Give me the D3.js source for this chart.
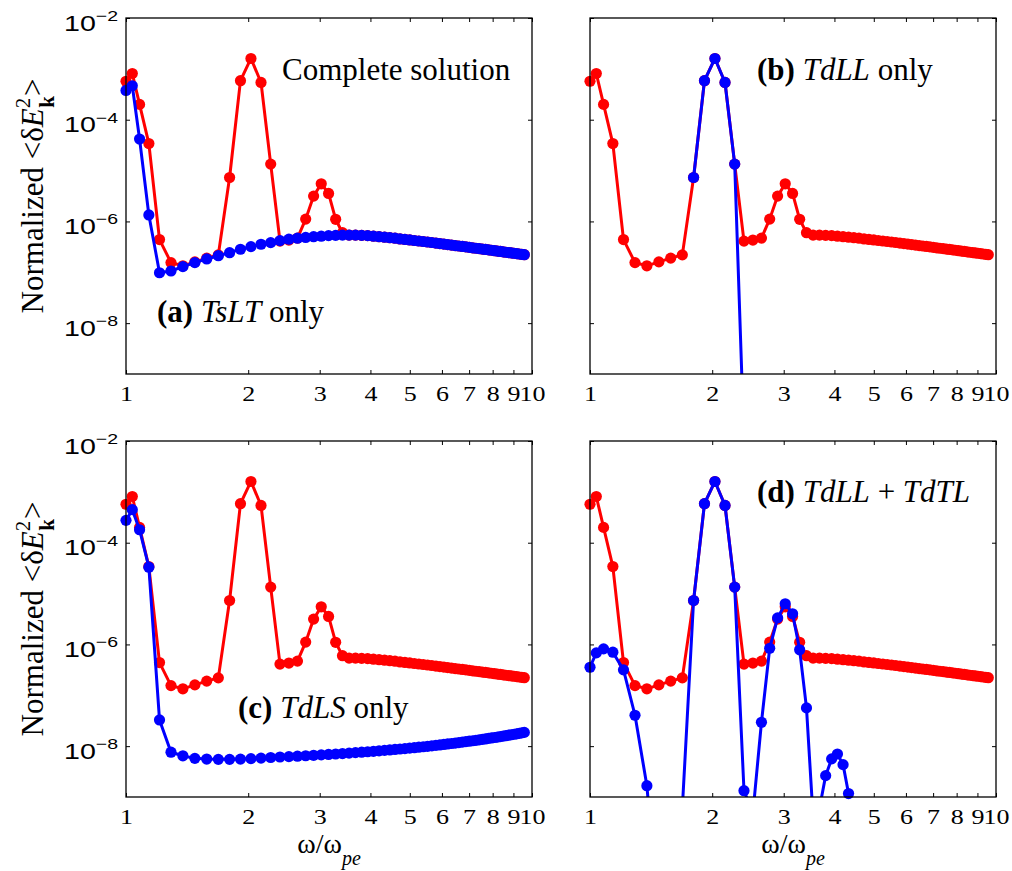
<!DOCTYPE html>
<html>
<head>
<meta charset="utf-8">
<script src="https://cdn.jsdelivr.net/npm/d3@7"></script>
<style>
  body { margin: 0; background: #fff; }
  svg { display: block; }
  .serif { font-family: "Liberation Serif", "Times New Roman", Times, serif; }
  .sans { font-family: "Liberation Sans", Arial, Helvetica, sans-serif; }
</style>
</head>
<body>
<svg id="fig" width="1012" height="871"></svg>
<script>
// Frequency grid, omega / omega_pe
const omega = [
  1.0000, 1.0363, 1.0800, 1.1384, 1.2093, 1.2907, 1.3807, 1.4778, 1.5806, 1.6881,
  1.7995, 1.9140, 2.0312, 2.1506, 2.2719, 2.3948, 2.5190, 2.6444, 2.7707, 2.8980,
  3.0260, 3.1547, 3.2840, 3.4137, 3.5440, 3.6747, 3.8057, 3.9371, 4.0688, 4.2008,
  4.3330, 4.4654, 4.5981, 4.7309, 4.8639, 4.9971, 5.1304, 5.2639, 5.3974, 5.5311,
  5.6650, 5.7989, 5.9329, 6.0670, 6.2012, 6.3354, 6.4698, 6.6042, 6.7386, 6.8731,
  7.0077, 7.1423, 7.2770, 7.4118, 7.5465, 7.6814, 7.8162, 7.9511, 8.0861, 8.2210,
  8.3560, 8.4911, 8.6261, 8.7613, 8.8964, 9.0315, 9.1667, 9.3019, 9.4371, 9.5724
];

// Complete solution (red, same in every panel)
const complete = [
  5.7e-4, 8.1e-4, 2.0e-4, 3.4e-5, 4.4e-7, 1.55e-7, 1.34e-7, 1.6e-7, 1.9e-7, 2.2e-7,
  7.3e-6, 5.85e-4, 1.6e-3, 5.4e-4, 1.34e-5, 4.1e-7, 4.3e-7, 4.7e-7, 1.11e-6, 3.15e-6,
  5.5e-6, 3.55e-6, 1.1e-6, 6.0e-7, 5.37e-7, 5.37e-7, 5.31e-7, 5.25e-7, 5.13e-7, 5.01e-7,
  4.90e-7, 4.79e-7, 4.68e-7, 4.52e-7, 4.42e-7, 4.32e-7, 4.22e-7, 4.12e-7, 4.03e-7, 3.94e-7,
  3.85e-7, 3.76e-7, 3.67e-7, 3.59e-7, 3.51e-7, 3.43e-7, 3.35e-7, 3.29e-7, 3.22e-7, 3.16e-7,
  3.09e-7, 3.03e-7, 2.97e-7, 2.92e-7, 2.86e-7, 2.81e-7, 2.76e-7, 2.71e-7, 2.66e-7, 2.61e-7,
  2.57e-7, 2.52e-7, 2.48e-7, 2.44e-7, 2.40e-7, 2.37e-7, 2.33e-7, 2.29e-7, 2.25e-7, 2.22e-7
];

// (a) TsLT only
const tslt = [
  3.76e-4, 4.65e-4, 4.17e-5, 1.34e-6, 9.8e-8, 1.06e-7, 1.29e-7, 1.55e-7, 1.83e-7, 2.12e-7,
  2.43e-7, 2.84e-7, 3.19e-7, 3.56e-7, 3.83e-7, 4.19e-7, 4.47e-7, 4.68e-7, 4.84e-7, 5.01e-7,
  5.13e-7, 5.25e-7, 5.31e-7, 5.37e-7, 5.37e-7, 5.37e-7, 5.31e-7, 5.25e-7, 5.13e-7, 5.01e-7,
  4.90e-7, 4.79e-7, 4.68e-7, 4.52e-7, 4.42e-7, 4.32e-7, 4.22e-7, 4.12e-7, 4.03e-7, 3.94e-7,
  3.85e-7, 3.76e-7, 3.67e-7, 3.59e-7, 3.51e-7, 3.43e-7, 3.35e-7, 3.29e-7, 3.22e-7, 3.16e-7,
  3.09e-7, 3.03e-7, 2.97e-7, 2.92e-7, 2.86e-7, 2.81e-7, 2.76e-7, 2.71e-7, 2.66e-7, 2.61e-7,
  2.57e-7, 2.52e-7, 2.48e-7, 2.44e-7, 2.40e-7, 2.37e-7, 2.33e-7, 2.29e-7, 2.25e-7, 2.22e-7
];

// (b) TdLL only
const tdll = [
  null, null, null, null, null, null, null, null, null, null,
  7.3e-6, 5.85e-4, 1.6e-3, 5.4e-4, 1.34e-5, 5e-11, null, null, null, null,
  null, null, null, null, null, null, null, null, null, null,
  null, null, null, null, null, null, null, null, null, null,
  null, null, null, null, null, null, null, null, null, null,
  null, null, null, null, null, null, null, null, null, null,
  null, null, null, null, null, null, null, null, null, null
];

// (c) TdLS only
const tdls = [
  2.75e-4, 4.47e-4, 1.8e-4, 3.3e-5, 3.27e-8, 7.6e-9, 6.46e-9, 5.75e-9, 5.58e-9, 5.5e-9,
  5.5e-9, 5.56e-9, 5.69e-9, 5.82e-9, 5.98e-9, 6.11e-9, 6.23e-9, 6.34e-9, 6.47e-9, 6.61e-9,
  6.73e-9, 6.87e-9, 7.01e-9, 7.15e-9, 7.30e-9, 7.45e-9, 7.60e-9, 7.76e-9, 7.92e-9, 8.09e-9,
  8.26e-9, 8.42e-9, 8.60e-9, 8.78e-9, 8.95e-9, 9.14e-9, 9.33e-9, 9.53e-9, 9.73e-9, 9.93e-9,
  1.014e-8, 1.035e-8, 1.057e-8, 1.081e-8, 1.104e-8, 1.127e-8, 1.151e-8, 1.175e-8, 1.199e-8, 1.225e-8,
  1.250e-8, 1.276e-8, 1.303e-8, 1.330e-8, 1.358e-8, 1.387e-8, 1.419e-8, 1.449e-8, 1.479e-8, 1.510e-8,
  1.542e-8, 1.574e-8, 1.607e-8, 1.641e-8, 1.675e-8, 1.714e-8, 1.750e-8, 1.786e-8, 1.824e-8, 1.862e-8
];

// (d) TdLL + TdTL
const tdllTdtl = [
  3.56e-7, 6.82e-7, 8.18e-7, 7.03e-7, 3.16e-7, 4.05e-8, 1.67e-9, 3e-12, 1e-12, 6e-10,
  7.3e-6, 5.85e-4, 1.6e-3, 5.4e-4, 1.34e-5, 1.33e-9, 4.8e-10, 2.95e-8, 8.41e-7, 3.33e-6,
  6.31e-6, 4.0e-6, 7.83e-7, 5.65e-8, 4e-10, 6e-10, 2.63e-9, 5.62e-9, 7.0e-9, 4.33e-9,
  1.17e-9, 2e-10, null, null, null, null, null, null, null, null,
  null, null, null, null, null, null, null, null, null, null,
  null, null, null, null, null, null, null, null, null, null,
  null, null, null, null, null, null, null, null, null, null
];

const xTicks = [1, 2, 3, 4, 5, 6, 7, 8, 9, 10];
const yTicks = [1e-2, 1e-4, 1e-6, 1e-8];
const yTickExponents = ["\u22122", "\u22124", "\u22126", "\u22128"];

// ---------------------------------------------------------------
const W = 406, H = 356;
const RED = "#ff0000", BLUE = "#0000ff";
const LABEL_SIZE = 31;

const svg = d3.select("#fig");

const panels = [
  { key: "a", left: 126, top: 18, blue: tslt, yText: true, xTitle: false,
    notes: [
      { x: 282, y: 80, parts: [["Complete solution", "normal", "normal"]] },
      { x: 157, y: 322, parts: [["(a)", "bold", "normal"], [" ", "normal", "normal"], ["TsLT", "normal", "italic"], [" only", "normal", "normal"]] }
    ] },
  { key: "b", left: 590, top: 18, blue: tdll, yText: false, xTitle: false,
    notes: [
      { x: 757, y: 80, parts: [["(b)", "bold", "normal"], [" ", "normal", "normal"], ["TdLL", "normal", "italic"], [" only", "normal", "normal"]] }
    ] },
  { key: "c", left: 126, top: 441, blue: tdls, yText: true, xTitle: true,
    notes: [
      { x: 238, y: 718, parts: [["(c)", "bold", "normal"], [" ", "normal", "normal"], ["TdLS", "normal", "italic"], [" only", "normal", "normal"]] }
    ] },
  { key: "d", left: 590, top: 441, blue: tdllTdtl, yText: false, xTitle: true,
    notes: [
      { x: 757, y: 502, parts: [["(d)", "bold", "normal"], [" ", "normal", "normal"], ["TdLL", "normal", "italic"], [" + ", "normal", "normal"], ["TdTL", "normal", "italic"]] }
    ] }
];

const x = d3.scaleLog().domain([1, 10]).range([0, W]);
const y = d3.scaleLog().domain([1e-9, 1e-2]).range([H, 0]);

const line = d3.line()
  .defined(d => d.v != null)
  .x(d => x(d.w))
  .y(d => y(d.v));

function toPoints(values) {
  return omega.map((w, i) => ({ w, v: values[i] }));
}

panels.forEach(p => {
  const g = svg.append("g").attr("transform", `translate(${p.left},${p.top})`);

  g.append("clipPath").attr("id", "clip-" + p.key)
    .append("rect").attr("x", 0).attr("y", 0).attr("width", W).attr("height", H);

  // series: complete solution underneath, partial contribution on top
  [[complete, RED], [p.blue, BLUE]].forEach(([vals, color]) => {
    const pts = toPoints(vals);
    g.append("path")
      .datum(pts)
      .attr("clip-path", `url(#clip-${p.key})`)
      .attr("fill", "none")
      .attr("stroke", color)
      .attr("stroke-width", 3)
      .attr("stroke-linejoin", "round")
      .attr("d", line);
    g.append("g").selectAll("circle")
      .data(pts.filter(d => d.v != null && d.v >= 1e-9 && d.v <= 1e-2))
      .join("circle")
      .attr("cx", d => x(d.w))
      .attr("cy", d => y(d.v))
      .attr("r", 5.6)
      .attr("fill", color);
  });

  // axes: inward ticks on all four sides
  const axB = g.append("g").attr("transform", `translate(0,${H})`)
    .call(d3.axisBottom(x).tickValues(xTicks).tickSize(-4).tickFormat(d3.format("d")));
  g.append("g").call(d3.axisTop(x).tickValues(xTicks).tickSize(-4).tickFormat(""));
  const axL = g.append("g").call(d3.axisLeft(y).tickValues(yTicks).tickSize(-4).tickFormat(""));
  g.append("g").attr("transform", `translate(${W},0)`)
    .call(d3.axisRight(y).tickValues(yTicks).tickSize(-4).tickFormat(""));

  g.selectAll(".domain").remove();
  g.selectAll(".tick line").attr("stroke", "#000").attr("stroke-width", 1);

  axB.attr("font-family", null);
  axB.selectAll("text")
    .attr("y", 27).attr("dy", null)
    .attr("transform", "scale(1.3,1)")
    .attr("class", "serif")
    .attr("font-size", 20)
    .attr("fill", "#000");

  if (p.yText) {
    axL.attr("font-family", null);
    axL.selectAll(".tick").each(function (d, i) {
      const t = d3.select(this).append("text")
        .attr("class", "sans")
        .attr("transform", "translate(-8,12) scale(1.3,1)")
        .attr("text-anchor", "end")
        .attr("fill", "#000");
      t.append("tspan").attr("font-size", 22).text("10");
      t.append("tspan").attr("font-size", 15).attr("dy", -9.6).text(yTickExponents[i]);
    });
  }

  // frame
  g.append("rect")
    .attr("x", 0).attr("y", 0).attr("width", W).attr("height", H)
    .attr("fill", "none").attr("stroke", "#000").attr("stroke-width", 1.3);

  // annotations
  p.notes.forEach(n => {
    const t = svg.append("text")
      .attr("class", "serif")
      .attr("x", n.x).attr("y", n.y)
      .attr("font-size", LABEL_SIZE).attr("fill", "#000")
      .attr("xml:space", "preserve");
    n.parts.forEach(([s, weight, style]) => {
      t.append("tspan").attr("font-weight", weight).attr("font-style", style).text(s);
    });
  });

  // y-axis title
  if (p.yText) {
    const cy = p.top + H / 2;
    const t = svg.append("text")
      .attr("class", "serif")
      .attr("transform", `translate(43,${cy}) rotate(-90)`)
      .attr("text-anchor", "middle")
      .attr("font-size", LABEL_SIZE).attr("fill", "#000");
    t.append("tspan").text("Normalized <\u03b4");
    t.append("tspan").attr("font-style", "italic").text("E");
    t.append("tspan").attr("font-size", 21).attr("dy", -13).text("2");
    t.append("tspan").attr("font-size", 21).attr("font-weight", "bold").attr("dx", -10).attr("dy", 24).text("k");
    t.append("tspan").attr("dy", -11).text(">");
  }

  // x-axis title
  if (p.xTitle) {
    const t = svg.append("text")
      .attr("class", "serif")
      .attr("x", p.left + W / 2).attr("y", p.top + H + 56)
      .attr("text-anchor", "middle")
      .attr("font-size", 28).attr("fill", "#000");
    t.append("tspan").text("\u03c9/\u03c9");
    t.append("tspan").attr("font-size", 20).attr("font-style", "italic").attr("dy", 12).text("pe");
  }
});
</script>
</body>
</html>
